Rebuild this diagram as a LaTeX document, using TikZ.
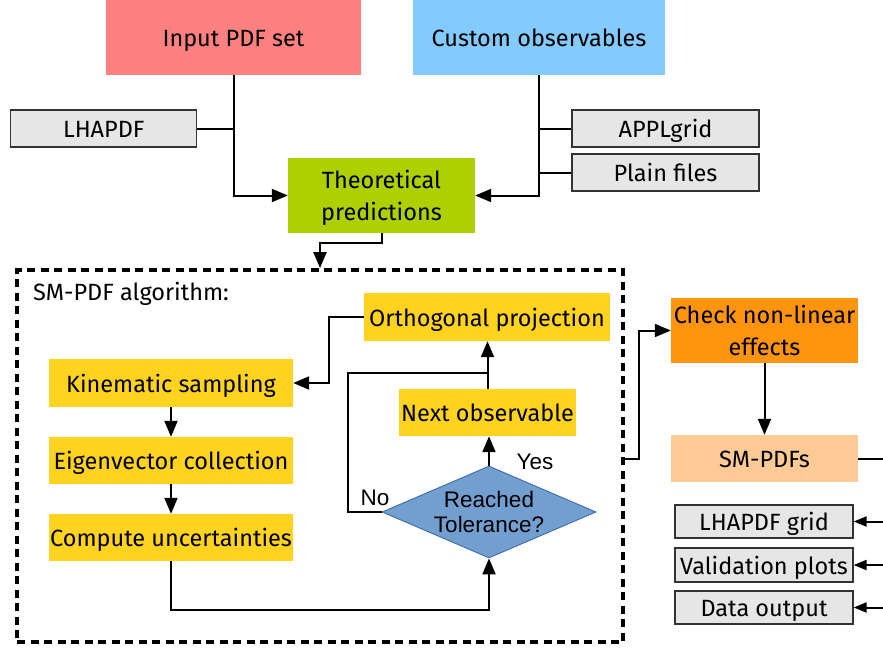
\documentclass[tikz,border=0pt]{standalone}
\usepackage{fontspec}
\setmainfont{Fira Sans}
\newfontfamily\arialf{Liberation Sans}
\usetikzlibrary{arrows.meta,shapes.geometric,calc}
\definecolor{cpink}{HTML}{FF8080}
\definecolor{cblue}{HTML}{83CAFF}
\definecolor{cgreen}{HTML}{AECF00}
\definecolor{cyell}{HTML}{FFD320}
\definecolor{corange}{HTML}{FF950E}
\definecolor{cpeach}{HTML}{FFCA96}
\definecolor{cgray}{HTML}{E6E6E6}
\definecolor{cdia}{HTML}{729FCF}
\definecolor{cdiab}{HTML}{3465A4}
\tikzset{
  base/.style={rectangle, inner sep=0pt, align=center, font=\fontsize{23.5}{32.5}\selectfont,
               text height=18.6pt, text depth=0pt},
  twoline/.style={text height=50.7pt, text depth=0pt},
  bigbox/.style={base},
  graybox/.style={base, fill=cgray, draw=black!80, line width=1.2pt},
  yellbox/.style={base, fill=cyell},
  conn/.style={line width=2pt},
  arr/.style={conn, -{Triangle[length=16pt,width=13pt]}},
  sarr/.style={conn, -{Triangle[length=13pt,width=10pt]}},
  lbl/.style={font=\arialf\fontsize{22.5}{25}\selectfont, inner sep=0pt},
}
\begin{document}
\begin{tikzpicture}[x=1pt,y=-1pt]
\clip (0,0) rectangle (883,648);
\useasboundingbox (0,0) rectangle (883,648);
% top
\node[bigbox, fill=cpink, minimum width=255pt, minimum height=75pt] (in) at (233.5,37.5) {Input PDF set};
\node[bigbox, fill=cblue, minimum width=252pt, minimum height=75pt] (co) at (539,37.5) {Custom observables};
\node[graybox, minimum width=186pt, minimum height=37pt] (lh) at (103.8,128.5) {LHAPDF};
\node[graybox, minimum width=187pt, minimum height=37pt] (ap) at (665.5,128.5) {APPLgrid};
\node[graybox, minimum width=187pt, minimum height=37pt] (pf) at (665.5,172.5) {Plain files};
\node[bigbox, twoline, fill=cgreen, minimum width=187pt, minimum height=75pt] (th) at (381.5,195.5) {Theoretical\\predictions};
% algorithm box
\node[rectangle, draw, line width=3.8pt, dash pattern=on 8pt off 5.5pt, minimum width=606pt, minimum height=372pt, inner sep=0pt] (alg) at (320,456) {};
\node[anchor=base west, inner sep=0pt, font=\fontsize{23.5}{28}\selectfont] (algl) at (33,300) {SM-PDF algorithm:};
\node[yellbox, minimum width=244pt, minimum height=48pt] (ks) at (171,383) {Kinematic sampling};
\node[yellbox, minimum width=244pt, minimum height=47pt] (ev) at (171,460.5) {Eigenvector collection};
\node[yellbox, minimum width=244pt, minimum height=47pt] (cu) at (171,537.5) {Compute uncertainties};
\node[yellbox, minimum width=246pt, minimum height=48pt] (op) at (487,317) {Orthogonal projection};
\node[yellbox, minimum width=177pt, minimum height=47pt] (nx) at (487.5,412.5) {Next observable};
\node[diamond, fill=cdia, draw=cdiab, line width=0.8pt, inner sep=0pt, minimum width=214pt, minimum height=92pt,
      label={[lbl, align=center]center:Reached\\Tolerance?}] (dm) at (489,512) {};
\node[lbl] (yes) at (535,462) {Yes};
\node[lbl] (no) at (375,498) {No};
% right
\node[bigbox, twoline, fill=corange, minimum width=187pt, minimum height=65pt] (ck) at (764.5,330.5) {Check non-linear\\effects};
\node[bigbox, fill=cpeach, minimum width=187pt, minimum height=47pt] (sm) at (764.5,458.5) {SM-PDFs};
\node[graybox, minimum width=178pt, minimum height=33pt] (lg) at (764,521.5) {LHAPDF grid};
\node[graybox, minimum width=178pt, minimum height=34pt] (vp) at (764,565) {Validation plots};
\node[graybox, minimum width=178pt, minimum height=33pt] (do) at (764,607.5) {Data output};
\coordinate (rt) at (900,458.5);
% connectors top
\draw[arr] (in.south) |- (th.west);
\draw[conn] (lh.east) -- (in.south |- lh.east);
\draw[arr] (co.south) |- (th.east);
\draw[conn] (ap.west) -- (co.south |- ap.west);
\draw[conn] (pf.west) -- (co.south |- pf.west);
\draw[arr] (th.south) -- ++(0,10) -| (alg.north);
% inside algorithm
\draw[arr] (ks.south) -- (ev.north);
\draw[arr] (ev.south) -- (cu.north);
\draw[arr] (cu.south) -- ++(0,49) -| (dm.south);
\draw[arr] (dm.north) -- (dm.north |- nx.south);
\draw[arr] (nx.north) -- (nx.north |- op.south);
\draw[conn] (dm.west) -- ++(-34,0) |- ([yshift=16pt]nx.north);
\draw[arr] (op.west) -- ++(-35,0) |- (ks.east);
% right side
\draw[arr] (alg.east |- sm.west) -- ++(14,0) |- (ck.west);
\draw[arr] (ck.south) -- (sm.north);
\draw[conn] (sm.east) -- (sm.east -| rt) |- (do.east -| rt);
\draw[sarr] (rt |- lg.east) -- (lg.east);
\draw[sarr] (rt |- vp.east) -- (vp.east);
\draw[sarr] (rt |- do.east) -- (do.east);
\end{tikzpicture}
\end{document}
